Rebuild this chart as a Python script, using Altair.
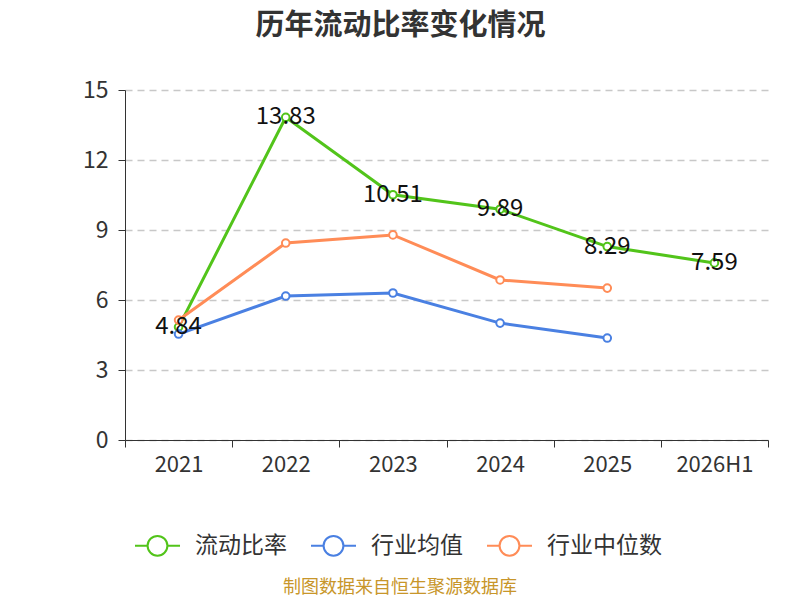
import altair as alt
import pandas as pd

years = ["2021", "2022", "2023", "2024", "2025", "2026H1"]
current_ratio = [4.84, 13.83, 10.51, 9.89, 8.29, 7.59]
industry_mean = [4.54, 6.17, 6.30, 5.01, 4.37, None]
industry_median = [5.14, 8.44, 8.79, 6.86, 6.51, None]
series_names = ["流动比率", "行业均值", "行业中位数"]
series_colors = ["#52C41A", "#4A80E2", "#FF8C57"]
y_ticks = [0, 3, 6, 9, 12, 15]
title_text = "历年流动比率变化情况"
source_text = "制图数据来自恒生聚源数据库"

rows = []
for name, vals in zip(series_names, [current_ratio, industry_mean, industry_median]):
    for y, v in zip(years, vals):
        if v is not None:
            rows.append({"year": y, "series": name, "value": v})
df = pd.DataFrame(rows)

FONT = "Noto Sans CJK SC"
PW, PH = 643, 350

x_enc = alt.X("year:N", sort=years, scale=alt.Scale(domain=years, paddingInner=0, paddingOuter=0),
              axis=alt.Axis(title=None, tickBand="extent", labelFontSize=22, labelColor="#333",
                            labelFont=FONT, domainColor="#333", tickColor="#333", tickSize=7,
                            labelPadding=7, grid=False, labelAngle=0))
y_enc = alt.Y("value:Q", scale=alt.Scale(domain=[0, 15], nice=False),
              axis=alt.Axis(title=None, values=y_ticks, labelFontSize=23, labelColor="#333",
                            labelFont=FONT, domainColor="#333", tickColor="#333", tickSize=7,
                            labelPadding=10, grid=True, gridColor="#c8c8c8", gridDash=[7, 5],
                            gridWidth=1.3))
color_scale = alt.Scale(domain=series_names, range=series_colors)

symbol_path = ("M-1,0L-0.44,0M0.44,0L1,0M-0.44,0A0.44,0.44,0,1,1,0.44,0"
               "A0.44,0.44,0,1,1,-0.44,0")

lines = alt.Chart(df).mark_line(strokeWidth=3).encode(
    x=x_enc, y=y_enc,
    color=alt.Color("series:N", scale=color_scale, sort=series_names,
                    legend=alt.Legend(title=None, orient="none", direction="horizontal",
                                      legendX=9, legendY=432,
                                      symbolType=symbol_path, symbolSize=2025,
                                      symbolStrokeWidth=2, symbolFillColor="white",
                                      labelFontSize=23, labelColor="#333", labelFont=FONT,
                                      labelOffset=14, columnPadding=20)),
)

points = alt.Chart(df).mark_point(filled=False, fill="white", size=58, strokeWidth=2, opacity=1).encode(
    x=x_enc, y=y_enc,
    color=alt.Color("series:N", scale=color_scale, sort=series_names, legend=None),
)

labels = alt.Chart(df).transform_filter(alt.datum.series == "流动比率").mark_text(
    fontSize=24, font=FONT, color="#111", baseline="middle", align="center"
).encode(x=x_enc, y=y_enc, text=alt.Text("value:Q", format=".2f"))

source = alt.Chart(pd.DataFrame({"t": [source_text]})).mark_text(
    fontSize=18, font=FONT, color="#C8962A", align="center", baseline="middle"
).encode(x=alt.value(275), y=alt.value(498), text="t:N")

chart = alt.layer(lines, points, labels, source).properties(
    width=PW, height=PH,
    autosize=alt.AutoSizeParams(type="none"),
    padding={"left": 117, "top": 82, "right": 24, "bottom": 160},
    title=alt.TitleParams(title_text, fontSize=29, font=FONT, fontWeight="bold", color="#333",
                          anchor="middle", dx=-46, offset=38),
).configure_view(stroke=None)

chart.save("out.html", embed_options={"renderer": "svg", "actions": False})
